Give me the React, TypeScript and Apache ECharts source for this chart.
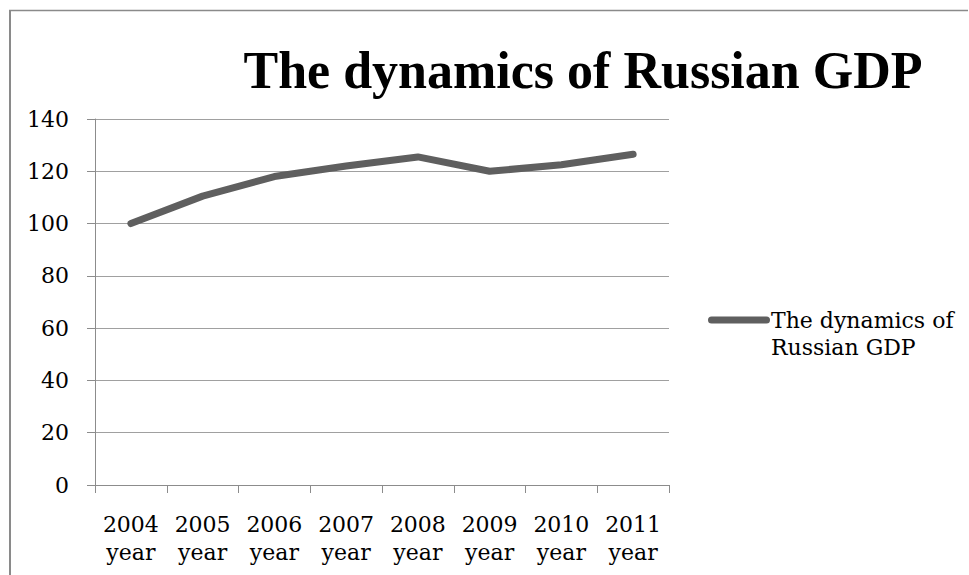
import React, { useEffect, useRef } from "react";
import * as echarts from "echarts";

const categories = ["2004\nyear", "2005\nyear", "2006\nyear", "2007\nyear", "2008\nyear", "2009\nyear", "2010\nyear", "2011\nyear"];
const gdpValues = [100, 110.5, 118, 122, 125.5, 120, 122.5, 126.5];
const seriesName = "The dynamics of Russian GDP";
const legendLabel = "The dynamics of\nRussian GDP";
const yMin = 0;
const yMax = 140;
const yInterval = 20;

export default function App() {
  const ref = useRef<HTMLDivElement>(null);
  useEffect(() => {
    if (!ref.current) return;
    const chart = echarts.init(ref.current, null, { renderer: "svg" });
    const labelFont = "'DejaVu Serif', serif";
    const lineColor = "#5f5f5f";
    chart.setOption({
      animation: false,
      backgroundColor: "#ffffff",
      grid: { left: 95, right: 300, top: 119, bottom: 90, containLabel: false },
      graphic: [
        { type: "line", shape: { x1: 9, y1: 10.5, x2: 968, y2: 10.5 }, style: { stroke: "#8a8a8a", lineWidth: 1.5 } },
        { type: "line", shape: { x1: 10, y1: 10, x2: 10, y2: 575 }, style: { stroke: "#8a8a8a", lineWidth: 2 } },
        {
          type: "text",
          x: 583,
          y: 70,
          style: {
            text: seriesName,
            font: "bold 52px 'Liberation Serif', serif",
            fill: "#000000",
            textAlign: "center",
            textVerticalAlign: "middle",
          },
        },
        {
          type: "line",
          shape: { x1: 711.5, y1: 320, x2: 766.5, y2: 320 },
          style: { stroke: lineColor, lineWidth: 7, lineCap: "round" },
        },
        {
          type: "text",
          x: 771,
          y: 306.5,
          style: {
            text: legendLabel,
            font: "22px 'DejaVu Serif', serif",
            lineHeight: 27,
            fill: "#000000",
            textAlign: "left",
            textVerticalAlign: "top",
          },
        },
      ],
      legend: { show: false },
      xAxis: {
        type: "category",
        data: categories,
        boundaryGap: true,
        axisLine: { show: true, lineStyle: { color: "#8c8c8c", width: 1 } },
        axisTick: { show: true, length: 8, lineStyle: { color: "#8c8c8c" } },
        axisLabel: {
          fontFamily: labelFont,
          fontSize: 22,
          lineHeight: 28,
          color: "#000000",
          margin: 25,
          interval: 0,
        },
        splitLine: { show: false },
      },
      yAxis: {
        type: "value",
        min: yMin,
        max: yMax,
        interval: yInterval,
        axisLine: { show: true, lineStyle: { color: "#8c8c8c", width: 1 } },
        axisTick: { show: true, length: 8, lineStyle: { color: "#8c8c8c" } },
        axisLabel: {
          fontFamily: labelFont,
          fontSize: 22,
          color: "#000000",
          margin: 26,
        },
        splitLine: { show: true, lineStyle: { color: "#a0a0a0", width: 1 } },
      },
      series: [
        {
          name: seriesName,
          type: "line",
          data: gdpValues,
          symbol: "none",
          color: lineColor,
          lineStyle: { color: lineColor, width: 7, cap: "round", join: "round" },
        },
      ],
    });
    return () => chart.dispose();
  }, []);
  return <div ref={ref} style={{ position: "fixed", left: 0, top: 0, width: 969, height: 575 }} />;
}
